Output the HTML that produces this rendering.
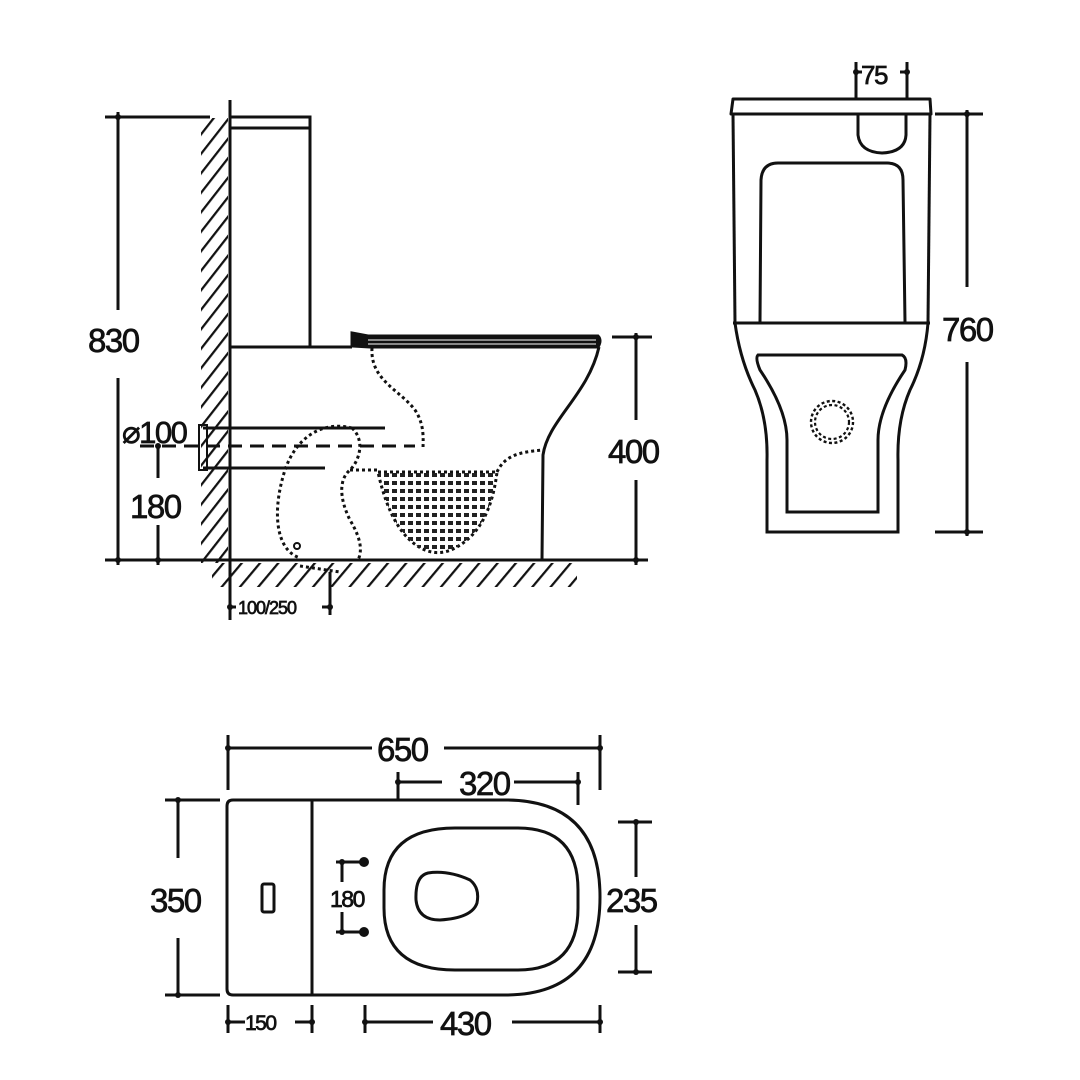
<!DOCTYPE html>
<html><head><meta charset="utf-8"><style>
html,body{margin:0;padding:0;background:#fff}
svg{display:block}
text{font-family:"Liberation Sans",Arial,sans-serif;fill:#111;stroke:#111;stroke-width:0.7;letter-spacing:-1.5px}
</style></head><body>
<svg width="1080" height="1080" viewBox="0 0 1080 1080" xmlns="http://www.w3.org/2000/svg">
<defs>
<pattern id="wh" width="12" height="12" patternUnits="userSpaceOnUse" patternTransform="rotate(38)">
<line x1="0" y1="0" x2="0" y2="12" stroke="#111" stroke-width="4.5"/>
</pattern>
<pattern id="fh" width="14" height="14" patternUnits="userSpaceOnUse" patternTransform="rotate(40)">
<line x1="0" y1="0" x2="0" y2="14" stroke="#111" stroke-width="4.5"/>
</pattern>
<pattern id="water" width="8" height="8" patternUnits="userSpaceOnUse">
<rect x="0" y="1" width="5" height="4" fill="#222"/>
</pattern>
<clipPath id="bowlclip"><path d="M378 472 L497 472 Q490 530 455 548 Q440 556 425 550 Q392 536 378 472 Z"/></clipPath>
</defs>
<g stroke="#111" fill="none" stroke-width="3" stroke-linecap="butt">

<rect x="201" y="118" width="27" height="445" fill="url(#wh)" stroke="none"/>
<rect x="212" y="563" width="365" height="24" fill="url(#fh)" stroke="none"/>
<line x1="230" y1="100" x2="230" y2="620"/>
<path d="M230 117 H310 V347"/>
<line x1="230" y1="128" x2="310" y2="128"/>
<line x1="230" y1="347" x2="352" y2="347"/>
<path d="M352 333 L368 336 H598 Q602 340 598 347 H370 L352 346 Z" fill="#111"/>
<line x1="368" y1="340" x2="596" y2="340" stroke="#fff" stroke-width="1"/>
<line x1="368" y1="344" x2="596" y2="344" stroke="#fff" stroke-width="1"/>
<path d="M599 347 C588 395 548 420 543 455 L542 560"/>
<line x1="105" y1="560" x2="648" y2="560"/>
<line x1="203" y1="428" x2="385" y2="428"/>
<line x1="203" y1="468" x2="325" y2="468"/>
<rect x="199" y="425" width="8" height="45" stroke-width="2"/>
<line x1="140" y1="446" x2="415" y2="446" stroke-dasharray="14 8"/>
<g stroke-dasharray="3 3" stroke-width="3">
<path d="M372 348 C370 380 400 390 415 410 C425 425 423 440 423 450"/>
<path d="M352 428 C320 420 295 440 285 470 C272 510 275 550 300 558"/>
<path d="M352 428 C365 440 360 460 350 470 C338 480 340 500 350 520 C362 540 362 552 358 560"/>
<path d="M350 470 H378"/>
<path d="M497 472 C505 455 520 452 543 450"/>
<path d="M300 566 L340 572"/>
<path d="M378 472 L497 472 Q490 530 455 548 Q440 556 425 550 Q392 536 378 472"/>
</g>
<rect x="378" y="472" width="120" height="85" fill="url(#water)" stroke="none" clip-path="url(#bowlclip)"/>
<circle cx="297" cy="546" r="3" stroke-width="2"/>
<line x1="105" y1="117" x2="210" y2="117"/>
<line x1="118" y1="112" x2="118" y2="310"/>
<line x1="118" y1="378" x2="118" y2="565"/>
<line x1="158" y1="446" x2="158" y2="478"/>
<line x1="158" y1="525" x2="158" y2="565"/>
<line x1="612" y1="337" x2="652" y2="337"/>
<line x1="636" y1="333" x2="636" y2="420"/>
<line x1="636" y1="480" x2="636" y2="565"/>
<line x1="330" y1="572" x2="330" y2="615"/>
<line x1="230" y1="607" x2="236" y2="607"/>
<line x1="322" y1="607" x2="330" y2="607"/>
</g>
<g fill="#111">
<circle cx="118" cy="117" r="3"/><circle cx="118" cy="560" r="3"/>
<circle cx="636" cy="337" r="3"/><circle cx="636" cy="560" r="3"/>
<circle cx="158" cy="446" r="3"/><circle cx="158" cy="560" r="3"/>
<circle cx="230" cy="607" r="3"/><circle cx="330" cy="607" r="3"/>
</g>
<text x="88" y="352" font-size="33">830</text>
<text x="122" y="443" font-size="31">⌀100</text>
<text x="130" y="518" font-size="33">180</text>
<text x="608" y="463" font-size="33">400</text>
<text x="238" y="614" font-size="18" style="letter-spacing:-1px">100/250</text>

<g stroke="#111" fill="none" stroke-width="3">
<path d="M733 99 H930 L931 114 H731 Z" stroke-linejoin="round"/>
<line x1="733" y1="114" x2="735" y2="323"/>
<line x1="930" y1="114" x2="928" y2="323"/>
<path d="M760 322 L761 180 Q762 163 778 163 H887 Q903 163 903 180 L905 322"/>
<path d="M858 114 V135 Q860 152 882 153 Q905 152 906 135 V114"/>
<line x1="733" y1="323" x2="930" y2="323"/>
<path d="M735 323 Q740 360 755 390 Q768 420 767 460 V532 H898 V460 Q897 420 910 390 Q925 360 928 323"/>
<path d="M758 355 H902 Q908 358 905 370 Q878 410 878 440 V512 H787 V440 Q787 410 760 370 Q755 358 758 355 Z"/>
<circle cx="832" cy="422" r="21" stroke-dasharray="3 2.5" stroke-width="2.4"/>
<circle cx="832" cy="422" r="17" stroke-dasharray="3 2.5" stroke-width="2.2"/>
<line x1="856" y1="62" x2="856" y2="100"/>
<line x1="907" y1="62" x2="907" y2="100"/>
<line x1="856" y1="72" x2="862" y2="72"/><line x1="900" y1="72" x2="907" y2="72"/>
<line x1="935" y1="114" x2="983" y2="114"/>
<line x1="935" y1="532" x2="983" y2="532"/>
<line x1="967" y1="110" x2="967" y2="287"/>
<line x1="967" y1="362" x2="967" y2="536"/>
</g>
<g fill="#111">
<circle cx="856" cy="72" r="3"/><circle cx="907" cy="72" r="3"/>
<circle cx="967" cy="114" r="3"/><circle cx="967" cy="532" r="3"/>
</g>
<text x="861" y="84" font-size="26">75</text>
<text x="942" y="341" font-size="33">760</text>

<g stroke="#111" fill="none" stroke-width="3">
<path d="M233 800 H505 Q600 800 600 897 Q600 995 505 995 H233 Q227 995 227 989 V806 Q227 800 233 800 Z"/>
<line x1="312" y1="800" x2="312" y2="995"/>
<rect x="262" y="884" width="12" height="28" rx="2"/>
<path d="M455 828 H518 Q578 828 578 890 V908 Q578 970 518 970 H455 Q384 970 384 908 V890 Q384 828 455 828 Z"/>
<path d="M428 873 Q448 870 470 880 Q480 888 477 903 Q472 918 440 920 Q418 920 416 900 Q415 876 428 873 Z"/>
<line x1="228" y1="735" x2="228" y2="790"/>
<line x1="600" y1="735" x2="600" y2="790"/>
<line x1="228" y1="748" x2="372" y2="748"/>
<line x1="444" y1="748" x2="600" y2="748"/>
<line x1="398" y1="772" x2="398" y2="800"/>
<line x1="578" y1="772" x2="578" y2="805"/>
<line x1="398" y1="782" x2="442" y2="782"/>
<line x1="514" y1="782" x2="578" y2="782"/>
<line x1="165" y1="800" x2="220" y2="800"/>
<line x1="165" y1="995" x2="220" y2="995"/>
<line x1="178" y1="800" x2="178" y2="858"/>
<line x1="178" y1="938" x2="178" y2="995"/>
<line x1="618" y1="822" x2="652" y2="822"/>
<line x1="618" y1="972" x2="652" y2="972"/>
<line x1="636" y1="822" x2="636" y2="877"/>
<line x1="636" y1="925" x2="636" y2="972"/>
<line x1="228" y1="1005" x2="228" y2="1033"/>
<line x1="312" y1="1005" x2="312" y2="1033"/>
<line x1="228" y1="1022" x2="245" y2="1022"/>
<line x1="295" y1="1022" x2="312" y2="1022"/>
<line x1="365" y1="1005" x2="365" y2="1033"/>
<line x1="600" y1="1005" x2="600" y2="1033"/>
<line x1="365" y1="1022" x2="433" y2="1022"/>
<line x1="512" y1="1022" x2="600" y2="1022"/>
<line x1="336" y1="862" x2="362" y2="862"/>
<line x1="336" y1="932" x2="362" y2="932"/>
<line x1="342" y1="862" x2="342" y2="882"/>
<line x1="342" y1="912" x2="342" y2="932"/>
</g>
<g fill="#111">
<circle cx="178" cy="800" r="3"/><circle cx="178" cy="995" r="3"/>
<circle cx="636" cy="822" r="3"/><circle cx="636" cy="972" r="3"/>
<circle cx="228" cy="1022" r="3"/><circle cx="312" cy="1022" r="3"/>
<circle cx="365" cy="1022" r="3"/><circle cx="600" cy="1022" r="3"/>
<circle cx="578" cy="782" r="3"/><circle cx="398" cy="782" r="3"/>
<circle cx="228" cy="748" r="3"/><circle cx="600" cy="748" r="3"/>
<circle cx="342" cy="862" r="3"/><circle cx="342" cy="932" r="3"/>
<circle cx="364" cy="862" r="5"/><circle cx="364" cy="932" r="5"/>
</g>
<text x="377" y="761" font-size="33">650</text>
<text x="459" y="795" font-size="33">320</text>
<text x="150" y="912" font-size="33">350</text>
<text x="606" y="912" font-size="33">235</text>
<text x="330" y="907" font-size="23">180</text>
<text x="245" y="1030" font-size="21">150</text>
<text x="440" y="1035" font-size="33">430</text>
</svg>
</body></html>
